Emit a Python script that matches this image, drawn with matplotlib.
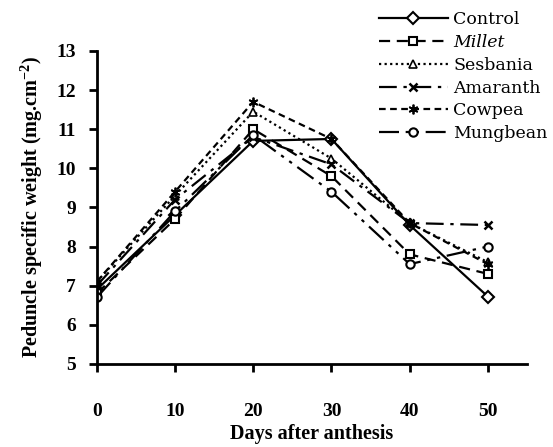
import matplotlib.pyplot as plt
import numpy as np

plt.rcParams['mathtext.default'] = 'regular'

# days after anthesis
days = [0, 10, 20, 30, 40, 50]

# peduncle specific weight (mg cm-2)
control = [6.9, 8.8, 10.7, 10.75, 8.55, 6.72]
millet = [6.8, 8.7, 11.0, 9.8, 7.8, 7.3]
sesbania = [7.1, 9.3, 11.45, 10.25, 8.6, 7.6]
amaranth = [7.0, 9.2, 10.8, 10.1, 8.6, 8.55]
cowpea = [7.1, 9.4, 11.7, 10.75, 8.6, 7.55]
mungbean = [6.7, 8.9, 10.85, 9.4, 7.55, 8.0]

names = ['Control', 'Millet', 'Sesbania', 'Amaranth', 'Cowpea', 'Mungbean']

fig = plt.figure(figsize=(5.53, 4.47), dpi=100)
ax = fig.add_axes([0.175, 0.186, 0.778, 0.70])

lw = 1.6
ax.plot(days, control, color='black', lw=lw, ls='-', marker='D', ms=6,
        mfc='white', mec='black', mew=1.5, label=names[0])
ax.plot(days, millet, color='black', lw=lw, ls=(0, (5, 3)), marker='s', ms=6,
        mfc='white', mec='black', mew=1.5, label=names[1])
ax.plot(days, sesbania, color='black', lw=lw, ls=(0, (1, 1.5)), marker='^', ms=6,
        mfc='white', mec='black', mew=1.2, label=names[2])
ax.plot(days, amaranth, color='black', lw=lw, ls=(0, (8, 3, 1.5, 3)), marker='x', ms=6,
        mec='black', mew=1.8, label=names[3])
ax.plot(days, cowpea, color='black', lw=lw, ls=(0, (3, 2)), marker=(6, 2, 0), ms=7,
        mec='black', mew=1.3, label=names[4])
ax.plot(days, mungbean, color='black', lw=lw, ls=(0, (9, 3, 1.5, 3, 1.5, 3)), marker='o', ms=6,
        mfc='white', mec='black', mew=1.5, label=names[5])

ax.set_xlim(0, 55)
ax.set_ylim(5, 13)
ax.set_xticks([0, 10, 20, 30, 40, 50])
ax.set_yticks(np.arange(5, 14, 1))

for s in ['top', 'right']:
    ax.spines[s].set_visible(False)
for s in ['left', 'bottom']:
    ax.spines[s].set_linewidth(2)

ax.tick_params(axis='both', direction='out', length=6, width=2, labelsize=14)
ax.tick_params(axis='x', pad=22)
ax.tick_params(axis='y', pad=9)
for lab in ax.get_xticklabels() + ax.get_yticklabels():
    lab.set_fontfamily('Liberation Serif')
    lab.set_fontweight('bold')

ax.set_xlabel('Days after anthesis', fontsize=14.5, fontweight='bold', family='Liberation Serif', labelpad=3)
ax.set_ylabel('Peduncle specific weight (mg.cm$^{-2}$)', fontsize=14.5, fontweight='bold',
              family='Liberation Serif', labelpad=8)

leg = fig.legend(loc='upper left', bbox_to_anchor=(0.672, 0.99), frameon=False,
                 prop={'family': 'DejaVu Serif', 'size': 12.5}, handlelength=4.0,
                 handletextpad=0.3, labelspacing=0.33, borderaxespad=0)
leg.get_texts()[1].set_fontstyle('italic')

plt.savefig('out.png', dpi=100)
